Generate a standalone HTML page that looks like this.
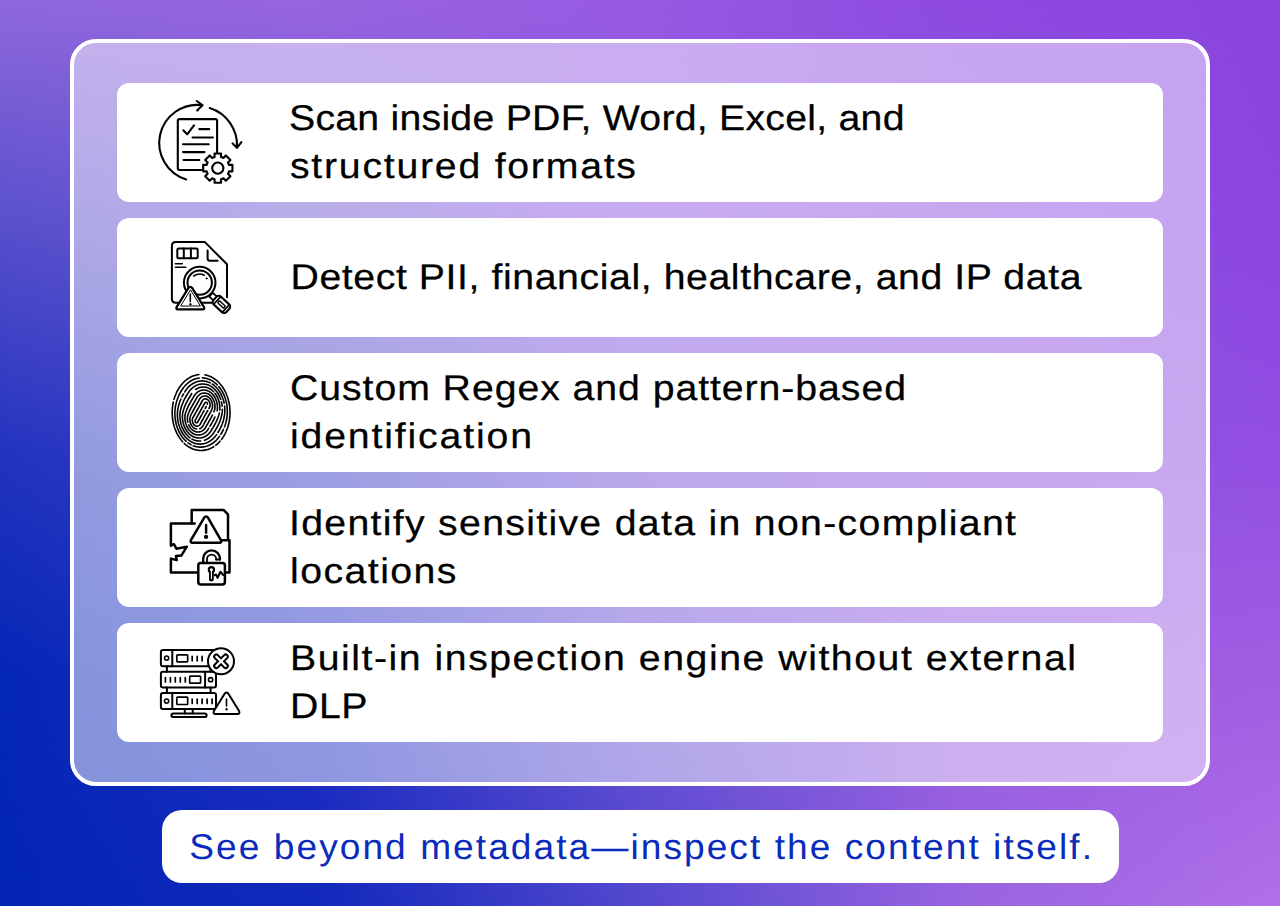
<!DOCTYPE html>
<html><head><meta charset="utf-8">
<style>
html,body{margin:0;padding:0;width:1280px;height:906px;overflow:hidden}
body{position:relative;font-family:"Liberation Sans",sans-serif;
background:#6a50d0;
}
.bgl{position:absolute;left:0;top:0;width:1280px;height:906px}
#panel{position:absolute;left:70px;top:39px;width:1132px;height:739px;border:4px solid #fff;border-radius:26px;background:rgba(255,255,255,0.5)}
.card{position:absolute;left:117px;width:1046px;height:119px;background:#fff;border-radius:12px}
#pill{position:absolute;left:162px;top:810px;width:957px;height:73px;background:#fff;border-radius:20px}
svg{position:absolute;left:0;top:0}
</style></head><body>
<div class="bgl" style="background:linear-gradient(90deg,rgb(143, 104, 220) 0%,rgb(152, 101, 224) 25%,rgb(151, 90, 226) 50%,rgb(142, 74, 224) 75%,rgb(138, 69, 223) 100%)"></div>
<div class="bgl" style="background:linear-gradient(90deg,rgb(88, 80, 204) 0%,rgb(111, 89, 209) 25%,rgb(145, 89, 225) 50%,rgb(141, 81, 225) 75%,rgb(139, 70, 224) 100%);-webkit-mask-image:linear-gradient(180deg,transparent 0px,#000 225px);mask-image:linear-gradient(180deg,transparent 0px,#000 225px)"></div>
<div class="bgl" style="background:linear-gradient(90deg,rgb(35, 52, 191) 0%,rgb(59, 65, 197) 25%,rgb(121, 81, 217) 50%,rgb(141, 81, 225) 75%,rgb(146, 79, 226) 100%);-webkit-mask-image:linear-gradient(180deg,transparent 225px,#000 450px);mask-image:linear-gradient(180deg,transparent 225px,#000 450px)"></div>
<div class="bgl" style="background:linear-gradient(90deg,rgb(4, 39, 181) 0%,rgb(37, 49, 197) 25%,rgb(105, 81, 213) 50%,rgb(153, 93, 225) 75%,rgb(160, 94, 226) 100%);-webkit-mask-image:linear-gradient(180deg,transparent 450px,#000 675px);mask-image:linear-gradient(180deg,transparent 450px,#000 675px)"></div>
<div class="bgl" style="background:linear-gradient(90deg,rgb(3, 37, 179) 0%,rgb(17, 41, 187) 25%,rgb(83, 72, 206) 50%,rgb(152, 100, 224) 75%,rgb(177, 112, 232) 100%);-webkit-mask-image:linear-gradient(180deg,transparent 675px,#000 906px);mask-image:linear-gradient(180deg,transparent 675px,#000 906px)"></div>
<div id="panel"></div>
<div class="card" style="top:83px"></div>
<div class="card" style="top:218px"></div>
<div class="card" style="top:353px"></div>
<div class="card" style="top:488px"></div>
<div class="card" style="top:623px"></div>
<div id="pill"></div>
<svg width="1280" height="906" viewBox="0 0 1280 906">
<g text-rendering="geometricPrecision" font-family="Liberation Sans" font-size="35.7" fill="#000" stroke="#000" stroke-width="0.25">
<text transform="translate(289.00 130.2) scale(1.1 1)" x="0" y="0" textLength="559.55" lengthAdjust="spacing">Scan inside PDF, Word, Excel, and</text>
<text transform="translate(290.00 178.2) scale(1.1 1)" x="0" y="0" textLength="314.55" lengthAdjust="spacing">structured formats</text>
<text transform="translate(290.50 289.2) scale(1.1 1)" x="0" y="0" textLength="719.09" lengthAdjust="spacing">Detect PII, financial, healthcare, and IP data</text>
<text transform="translate(290.00 400.2) scale(1.1 1)" x="0" y="0" textLength="560.00" lengthAdjust="spacing">Custom Regex and pattern-based</text>
<text transform="translate(290.00 448.2) scale(1.1 1)" x="0" y="0" textLength="220.00" lengthAdjust="spacing">identification</text>
<text transform="translate(289.00 535.2) scale(1.1 1)" x="0" y="0" textLength="660.91" lengthAdjust="spacing">Identify sensitive data in non-compliant</text>
<text transform="translate(290.00 583.2) scale(1.1 1)" x="0" y="0" textLength="151.36" lengthAdjust="spacing">locations</text>
<text transform="translate(290.00 670.2) scale(1.1 1)" x="0" y="0" textLength="714.55" lengthAdjust="spacing">Built-in inspection engine without external</text>
<text transform="translate(290.00 718.2) scale(1.1 1)" x="0" y="0" textLength="70.45" lengthAdjust="spacing">DLP</text>
</g>
<g text-rendering="geometricPrecision" font-family="Liberation Sans" font-size="35.7" fill="#0b2bbd">
<text transform="translate(189.25 858.6) scale(1.04 1)" x="0" y="0" textLength="868.03" lengthAdjust="spacing">See beyond metadata—inspect the content itself.</text>
</g>
<g id="icons" fill="none" stroke="#000" stroke-width="2.1" stroke-linecap="round" stroke-linejoin="round">
<g stroke-width="2.1">
<path d="M202.4 105.2 A38.1 38.1 0 0 0 186.2 179.4"/>
<path d="M196.8 101.0 L202.4 105.2 L197.2 110.6"/>
<path d="M209.7 108.1 A39 39 0 0 1 237 147.6"/>
<path d="M232.6 143.4 L237 147.8 L241.4 142.2"/>
<path d="M201.4 170 L179.5 170 Q177.8 170 177.8 168.3 L177.8 120.8 Q177.8 119.1 179.5 119.1 L215.4 119.1 Q217.1 119.1 217.1 120.8 L217.1 152.5"/>
<path d="M183.3 130.3 L187.2 134.3 L194.0 125.4"/>
<path d="M199.3 129.1 L209.2 129.1"/>
<path d="M192.5 137.5 L212.9 137.5"/>
<path d="M183 144.3 L208.7 144.3"/>
<path d="M183 152.1 L204.5 152.1"/>
<path d="M183.5 160 L199.3 160"/>
<path d="M213.17 157.46 L214.60 156.95 L214.55 153.46 L221.05 153.46 L221.00 156.95 L222.05 157.31 L223.42 157.95 L225.86 155.45 L230.45 160.04 L227.95 162.48 L228.44 163.47 L228.95 164.90 L232.44 164.85 L232.44 171.35 L228.95 171.30 L228.59 172.35 L227.95 173.72 L230.45 176.16 L225.86 180.75 L223.42 178.25 L222.43 178.74 L221.00 179.25 L221.05 182.74 L214.55 182.74 L214.60 179.25 L213.55 178.89 L212.18 178.25 L209.74 180.75 L205.15 176.16 L207.65 173.72 L207.16 172.73 L206.65 171.30 L203.16 171.35 L203.16 164.85 L206.65 164.90 L207.01 163.85 L207.65 162.48 L205.15 160.04 L209.74 155.45 L212.18 157.95 Z" fill="#fff"/>
<circle cx="217.8" cy="168.1" r="5.6"/>
</g>
<g stroke-width="2.0">
<path d="M227 297.3 L227 264.3 L204.7 241.9 L175.9 241.9 Q171.9 241.9 171.9 245.9 L171.9 298.8 Q171.9 302.8 175.9 302.8 L180 302.8 M200 302.8 L212 302.8"/>
<path d="M207.6 250.4 L207.6 258.3 Q207.6 260.8 210.1 260.8 L217.6 260.8"/>
<rect x="177.3" y="248.4" width="20.4" height="9.9" rx="1.5"/>
<path d="M183.8 248.4 L183.8 258.3 M190.9 248.4 L190.9 258.3"/>
<path d="M175.4 263.8 L182.3 263.8 M175.4 267.3 L185.8 267.3" stroke-width="1.6"/>
<g transform="translate(221.3 304.3) rotate(43)">
<rect x="-14" y="-2.6" width="6" height="5.2" fill="#fff" stroke-width="1.7"/>
<rect x="-8.6" y="-5.3" width="17.6" height="10.6" rx="3.2" fill="#fff" stroke-width="2.1"/>
<rect x="-3.8" y="-1.4" width="8.2" height="2.8" rx="1.2" stroke-width="1.5"/>
<path d="M-5.6 -5.3 L-5.6 5.3 M6.2 -5.3 L6.2 5.3" stroke-width="1.6"/>
</g>
<circle cx="199.7" cy="282.6" r="15.8" fill="#fff"/>
<circle cx="199.7" cy="282.6" r="12.2"/>
<path d="M193.7 276.0 Q199 272.5 204.2 275.3" stroke-width="1.6"/>
<circle cx="206.6" cy="278.4" r="0.6" fill="#000" stroke-width="1"/>
<path d="M190.3 286.8 Q189.2 286.8 188.5 287.9 L176.6 307.2 Q175.6 309.3 178 309.3 L202.6 309.3 Q205 309.3 204 307.2 L192.1 287.9 Q191.4 286.8 190.3 286.8 Z" fill="#fff" stroke-width="2.2"/>
<path d="M190.3 290.2 L180.6 306.0 L200.0 306.0 Z" stroke-width="1.0"/>
<path d="M190.3 294.0 L190.3 301.5" stroke-width="1.6"/>
<circle cx="190.3" cy="304.2" r="0.7" fill="#000" stroke-width="1"/>
</g>
<path stroke-width="1.6" d="M204.4 450.2 L205.0 450.1 L205.7 450.0 L206.2 449.9 L206.8 449.8 L207.5 449.6 L208.0 449.4 L208.5 449.2 L209.1 449.0 L209.8 448.8 L210.2 448.5 L210.8 448.3 L211.2 448.1 L211.8 447.8 L212.2 447.6 L212.8 447.3 L213.2 447.0 L213.6 446.8 L213.8 446.7 M215.8 445.3 L216.1 445.0 L216.5 444.7 L217.0 444.2 L217.3 444.0 L217.8 443.6 L218.1 443.2 L218.5 442.8 L218.8 442.5 L219.2 442.1 L219.5 441.8 L220.0 441.2 L220.0 441.2 M221.5 439.4 L221.8 439.0 L222.2 438.5 L222.5 438.0 L222.8 437.7 L223.0 437.2 L223.3 436.8 L223.7 436.2 L224.0 435.8 L224.2 435.2 L224.5 434.8 L224.8 434.3 L225.0 433.9 L225.2 433.4 L225.5 432.9 L225.8 432.3 L226.0 431.8 L226.2 431.2 L226.4 430.8 L226.7 430.2 L226.8 429.8 L227.0 429.2 L227.2 428.7 L227.5 428.0 L227.7 427.5 L227.8 427.0 L228.0 426.4 L228.2 425.8 L228.3 425.2 L228.5 424.6 L228.6 424.0 L228.8 423.5 L228.9 422.8 L229.0 422.2 L229.2 421.5 L229.3 421.0 L229.4 420.2 L229.5 419.5 L229.6 419.0 L229.7 418.2 L229.7 417.5 L229.8 417.0 L229.9 416.2 L229.9 415.5 L229.9 414.8 L230.0 414.0 L230.0 413.2 L230.0 412.5 L230.0 411.8 L230.0 411.0 L229.9 410.2 L229.9 409.5 L229.9 408.8 L229.8 408.0 L229.7 407.5 L229.7 406.8 L229.6 406.0 L229.5 405.5 L229.4 404.8 L229.3 404.0 L229.2 403.5 L229.0 402.8 L228.9 402.2 L228.8 401.5 L228.6 401.0 L228.5 400.4 L228.3 399.8 L228.2 399.2 L228.0 398.6 L227.8 398.0 L227.7 397.5 L227.5 397.0 L227.2 396.3 L227.0 395.8 L226.8 395.2 L226.7 394.8 L226.4 394.2 L226.2 393.8 L226.0 393.2 L225.8 392.7 L225.5 392.1 L225.2 391.6 L225.0 391.1 L224.8 390.7 L224.5 390.2 L224.2 389.8 L224.0 389.2 L223.7 388.8 L223.3 388.2 L223.0 387.8 L222.8 387.3 L222.5 387.0 L222.2 386.5 L221.8 386.0 L221.5 385.6 L221.2 385.2 L220.8 384.8 L220.5 384.3 L220.2 384.0 L219.8 383.5 L219.5 383.2 L219.1 382.8 L218.8 382.4 L218.3 382.0 L218.0 381.7 L217.5 381.2 L217.2 381.0 L216.8 380.6 L216.4 380.2 L216.0 379.9 L215.5 379.6 L215.1 379.2 L214.7 379.0 L214.2 378.7 L213.8 378.3 L213.2 378.0 L212.8 377.8 L212.3 377.5 L211.9 377.2 L211.4 377.0 L210.9 376.8 L210.3 376.5 L209.8 376.2 L209.2 376.0 L208.8 375.9 L208.2 375.7 L207.7 375.5 L207.0 375.3 L206.5 375.2 L205.8 375.0 L205.2 374.9 L205.0 374.9 M198.8 374.6 L198.0 374.7 L197.5 374.8 L196.8 374.9 L196.2 375.0 L195.5 375.2 L195.0 375.4 L194.5 375.5 L193.8 375.8 L193.2 375.9 L192.8 376.1 L192.2 376.3 L191.8 376.5 L191.2 376.8 L190.8 377.0 L190.2 377.3 L189.8 377.6 L189.2 377.8 L188.8 378.1 L188.2 378.5 L187.8 378.8 L187.5 379.0 L187.0 379.3 L186.5 379.7 L186.1 380.0 L185.8 380.3 L185.2 380.7 L184.9 381.0 L184.5 381.4 L184.1 381.8 L183.8 382.1 L183.4 382.5 L183.0 382.9 L182.7 383.2 L182.2 383.7 L182.0 384.0 L181.6 384.5 L181.2 384.9 L181.0 385.2 L180.6 385.8 L180.2 386.2 L180.0 386.5 L179.7 387.0 L179.3 387.5 L179.0 388.0 L178.8 388.4 L178.5 388.8 L178.2 389.2 L178.0 389.8 L177.7 390.2 L177.4 390.8 L177.1 391.2 L176.9 391.8 L176.6 392.2 L176.4 392.8 L176.2 393.2 L176.0 393.8 L175.8 394.3 L175.5 394.9 L175.3 395.5 L175.1 396.0 L174.9 396.5 L174.7 397.0 L174.5 397.6 L174.3 398.2 L174.2 398.8 L174.0 399.3 L174.0 399.3 M173.3 402.0 L173.2 402.5 L173.1 403.2 L173.0 403.8 L172.8 404.5 L172.8 405.1 L172.7 405.8 L172.6 406.5 L172.5 407.0 L172.4 407.8 L172.4 408.5 L172.3 409.2 L172.3 410.0 L172.2 410.5 L172.2 411.2 L172.2 412.0 L172.2 412.8 L172.2 413.5 L172.2 414.2 L172.3 414.8 L172.3 415.5 L172.3 416.2 L172.4 417.0 L172.5 417.8 L172.5 418.2 L172.6 419.0 L172.7 419.8 L172.8 420.2 L172.9 421.0 L173.0 421.5 L173.2 422.2 L173.3 422.8 L173.4 423.5 L173.6 424.0 L173.7 424.8 L173.9 425.2 L174.0 425.8 L174.2 426.5 L174.4 427.0 L174.5 427.5 L174.8 428.1 L175.0 428.8 L175.2 429.2 L175.4 429.8 L175.5 430.2 L175.8 430.8 L176.0 431.3 L176.2 431.9 L176.5 432.4 L176.8 433.0 L177.0 433.5 L177.2 434.0 L177.5 434.4 L177.8 434.9 L178.0 435.3 L178.2 435.8 L178.5 436.2 L178.9 436.8 L179.2 437.2 L179.5 437.7 L179.8 438.1 L180.0 438.5 L180.4 439.0 L180.8 439.5 L181.0 439.8 L181.4 440.2 L181.8 440.7 L182.0 441.0 L182.4 441.5 L182.7 441.8 M184.2 443.4 L184.7 443.8 L185.0 444.1 L185.5 444.5 L185.8 444.8 L186.2 445.1 L186.8 445.5 L187.1 445.8 L187.5 446.0 L188.0 446.4 L188.5 446.7 L189.0 447.0 L189.4 447.2 L189.9 447.5 L190.3 447.8 L190.8 448.0 L191.3 448.2 L191.9 448.5 L192.4 448.8 L193.0 449.0 L193.5 449.2 L194.0 449.3 L194.5 449.5 L195.2 449.7 L195.8 449.8 L196.5 450.0 L197.0 450.1 L197.8 450.2 L198.2 450.3 L199.0 450.4 L199.8 450.5 L200.5 450.5 L201.2 450.5 L202.0 450.5 L202.8 450.4 L203.5 450.4 L204.2 450.3 L204.4 450.2 M203.1 447.0 L203.8 446.9 L204.5 446.8 L205.0 446.7 L205.7 446.5 L206.2 446.3 L206.8 446.2 L207.3 446.0 L208.0 445.8 L208.5 445.6 L209.0 445.3 L209.5 445.1 L210.0 444.9 L210.5 444.6 L211.0 444.3 L211.5 444.0 L211.9 443.8 L212.3 443.5 L212.8 443.2 L213.2 442.8 L213.7 442.5 L214.0 442.2 L214.5 441.9 L214.9 441.5 L215.2 441.2 L215.7 440.8 L216.0 440.5 L216.5 440.0 L216.8 439.7 L217.2 439.2 L217.5 438.9 L217.8 438.5 L218.2 438.0 L218.5 437.7 L218.8 437.2 L219.2 436.8 L219.5 436.3 L219.5 436.3 M220.8 434.4 L221.0 434.0 L221.3 433.5 L221.6 433.0 L221.9 432.5 L222.2 432.0 L222.4 431.5 L222.7 431.0 L222.9 430.5 L223.2 430.0 L223.4 429.5 L223.5 429.2 M224.5 426.9 L224.7 426.2 L224.9 425.8 L225.1 425.2 L225.2 424.7 L225.5 424.0 L225.6 423.5 L225.8 423.0 L226.0 422.2 L226.1 421.8 L226.2 421.1 L226.4 420.5 L226.5 419.9 L226.6 419.2 L226.8 418.6 L226.9 418.0 L227.0 417.2 L227.0 416.8 L227.1 416.0 L227.2 415.2 L227.2 414.5 L227.3 414.0 L227.3 413.2 L227.3 412.5 L227.3 411.8 L227.3 411.0 L227.3 410.2 L227.3 409.5 L227.2 408.9 L227.2 408.2 L227.1 407.5 L227.1 406.8 L227.0 406.2 L226.9 405.5 L226.8 404.8 L226.7 404.2 L226.6 403.5 L226.5 403.0 L226.3 402.2 L226.2 401.8 L226.0 401.0 L225.9 400.5 L225.7 400.0 L225.5 399.2 L225.4 398.8 L225.2 398.2 L225.0 397.6 L224.8 397.0 L224.6 396.5 L224.4 396.0 L224.2 395.5 L224.0 395.0 L223.7 394.5 L223.5 394.0 L223.2 393.4 L223.0 392.9 L222.8 392.5 L222.5 392.0 L222.2 391.5 L221.9 391.0 L221.6 390.5 L221.3 390.0 L221.0 389.5 L220.8 389.1 L220.5 388.8 L220.1 388.2 L219.8 387.8 L219.5 387.4 L219.2 387.0 L218.8 386.5 L218.8 386.5 M217.2 384.9 L216.9 384.5 L216.5 384.2 L216.1 383.8 L215.8 383.5 L215.2 383.1 L214.9 382.8 L214.5 382.5 L214.0 382.1 L213.5 381.8 L213.2 381.5 L212.8 381.2 L212.2 380.9 L211.8 380.6 L211.2 380.4 L210.8 380.1 L210.2 379.9 L209.8 379.6 L209.2 379.4 L208.8 379.2 L208.1 379.0 L207.5 378.8 L207.0 378.6 L206.5 378.5 L205.8 378.3 L205.2 378.2 L204.5 378.1 L203.8 378.0 L203.2 377.9 L202.5 377.9 L202.5 377.9 M199.2 378.0 L198.8 378.1 L198.0 378.2 L197.5 378.3 L196.8 378.5 L196.2 378.6 L195.7 378.8 L195.0 379.0 L194.5 379.1 L194.0 379.3 L193.5 379.6 L193.0 379.8 L192.5 380.0 L192.0 380.3 L191.5 380.5 L191.0 380.8 L190.5 381.1 L190.0 381.5 L189.6 381.8 L189.2 382.0 L188.8 382.3 L188.2 382.7 L187.9 383.0 L187.5 383.3 L187.0 383.8 L186.8 384.0 L186.2 384.5 L186.0 384.8 L185.5 385.2 L185.2 385.5 L184.8 386.0 L184.5 386.4 L184.2 386.8 L183.8 387.2 L183.5 387.6 L183.2 388.0 L182.9 388.5 L182.5 389.0 L182.2 389.4 L182.0 389.8 L181.7 390.2 L181.4 390.8 L181.1 391.2 L180.8 391.8 L180.5 392.2 L180.2 392.7 L180.0 393.1 L179.8 393.6 L179.5 394.1 L179.2 394.6 L179.0 395.1 L178.8 395.7 L178.5 396.2 L178.3 396.8 L178.1 397.2 L177.9 397.8 L177.7 398.2 L177.5 398.8 L177.2 399.5 L177.1 400.0 L176.9 400.5 L176.8 401.0 L176.5 401.8 L176.4 402.2 L176.2 402.8 L176.1 403.5 L176.0 404.0 L175.8 404.8 L175.7 405.2 L175.5 406.0 L175.5 406.5 L175.3 407.2 L175.2 407.8 L175.2 408.5 L175.1 409.2 L175.0 410.0 L175.0 410.5 L174.9 411.2 L174.9 412.0 L174.9 412.8 L174.9 413.5 L174.9 414.2 L174.9 415.0 L174.9 415.8 L175.0 416.5 L175.0 417.0 L175.1 417.8 L175.2 418.5 L175.3 419.0 L175.4 419.8 L175.5 420.5 L175.6 421.0 L175.7 421.8 L175.8 422.2 L176.0 423.0 L176.1 423.5 L176.2 424.2 L176.4 424.8 L176.5 425.2 L176.8 425.9 L176.9 426.5 L177.1 427.0 L177.3 427.5 L177.5 428.1 L177.7 428.8 L177.9 429.2 L178.1 429.8 L178.4 430.2 L178.6 430.8 L178.8 431.2 L179.1 431.8 L179.3 432.2 L179.6 432.8 L179.9 433.2 L180.1 433.8 L180.4 434.2 L180.7 434.8 L181.0 435.2 L181.2 435.5 L181.6 436.0 L181.9 436.5 L182.2 437.0 L182.5 437.3 L182.9 437.8 L183.2 438.2 L183.5 438.5 L183.9 439.0 L184.2 439.4 L184.6 439.8 L185.0 440.2 L185.4 440.5 L185.8 440.9 L186.2 441.2 L186.2 441.2 M188.0 442.8 L188.3 443.0 L188.8 443.3 L189.2 443.6 L189.8 443.9 L190.2 444.2 L190.7 444.5 L191.0 444.7 M193.2 445.7 L193.8 445.9 L194.2 446.1 L194.8 446.2 L195.5 446.4 L196.0 446.6 L196.8 446.7 L197.2 446.8 L198.0 447.0 L198.5 447.0 L199.2 447.1 L200.0 447.1 L200.8 447.1 L201.5 447.1 L202.2 447.1 L203.0 447.0 L203.1 447.0 M201.8 444.0 L202.5 443.9 L203.2 443.8 L203.8 443.7 L204.5 443.5 L205.0 443.4 L205.5 443.2 L206.2 443.0 L206.8 442.8 L207.2 442.6 L207.8 442.3 L208.2 442.1 L208.8 441.8 L209.2 441.6 L209.8 441.3 L210.1 441.0 L210.5 440.8 L211.0 440.4 L211.5 440.0 L211.9 439.8 L212.2 439.4 L212.7 439.0 L213.0 438.8 L213.5 438.3 L213.8 438.0 L214.2 437.5 L214.5 437.2 L214.9 436.8 L215.2 436.4 L215.5 436.0 L215.9 435.5 L216.2 435.0 L216.5 434.7 L216.6 434.5 M217.9 432.5 L218.2 432.0 L218.5 431.5 L218.8 431.1 L219.0 430.7 L219.3 430.2 L219.5 429.8 L219.8 429.2 L220.1 428.8 L220.3 428.2 L220.6 427.8 L220.8 427.2 L221.0 426.8 L221.3 426.2 L221.5 425.7 L221.8 425.1 L222.0 424.5 L222.2 424.0 L222.4 423.5 L222.5 423.0 L222.8 422.4 L223.0 421.8 L223.1 421.2 L223.3 420.8 L223.5 420.0 L223.6 419.5 L223.8 419.0 L223.9 418.2 L224.1 417.8 L224.2 417.0 L224.3 416.5 L224.4 415.8 L224.5 415.2 L224.6 414.5 L224.7 413.8 L224.8 413.2 L224.8 412.5 L224.8 411.8 L224.8 411.0 L224.8 410.2 L224.8 409.5 L224.8 408.8 L224.8 408.0 L224.7 407.5 L224.7 406.8 L224.6 406.0 L224.6 406.0 M224.1 403.2 L224.0 402.6 L223.9 402.0 L223.8 401.5 L223.6 400.8 L223.4 400.2 L223.2 399.7 L223.0 399.0 L222.9 398.5 L222.7 398.0 L222.5 397.5 L222.2 396.9 L222.0 396.2 L221.8 395.8 L221.6 395.2 L221.3 394.8 L221.1 394.2 L220.8 393.8 L220.5 393.2 L220.3 392.8 L220.0 392.3 L219.8 391.9 L219.5 391.5 L219.2 391.0 L218.8 390.5 L218.5 390.1 L218.2 389.7 L217.9 389.2 L217.5 388.8 L217.2 388.5 L216.8 388.0 L216.5 387.7 L216.1 387.2 L215.8 386.9 L215.3 386.5 L215.0 386.2 L214.5 385.8 L214.2 385.5 L213.8 385.1 L213.2 384.8 L212.9 384.5 L212.5 384.2 L212.2 384.1 M210.2 382.9 L209.8 382.7 L209.2 382.4 L208.8 382.2 L208.1 382.0 L207.5 381.8 L207.0 381.6 L206.5 381.5 L205.8 381.3 L205.2 381.2 L204.5 381.1 L203.8 381.0 L203.2 381.0 L202.5 380.9 L201.8 380.9 L201.0 381.0 L200.5 381.0 L199.8 381.1 L199.0 381.2 L198.5 381.3 L197.8 381.5 L197.2 381.6 L196.8 381.8 L196.1 382.0 L195.5 382.2 L195.0 382.5 L194.5 382.7 L194.0 382.9 L193.5 383.2 L193.0 383.5 L192.5 383.8 L192.2 384.0 L191.8 384.3 L191.2 384.6 L190.8 385.0 L190.4 385.2 L190.0 385.6 L189.6 386.0 L189.2 386.3 L188.8 386.8 L188.5 387.0 L188.0 387.5 L187.8 387.8 L187.4 388.2 L187.0 388.7 L186.8 389.0 L186.4 389.5 L186.0 390.0 L185.8 390.4 L185.5 390.8 L185.2 391.2 L184.9 391.8 L184.8 392.0 M183.5 394.0 L183.2 394.4 L183.0 394.8 L182.8 395.3 L182.5 395.8 L182.2 396.2 L182.0 396.8 L182.0 396.8 M180.9 399.0 L180.7 399.5 L180.5 400.0 L180.2 400.6 L180.0 401.2 L179.8 401.8 L179.6 402.2 L179.5 402.8 L179.2 403.4 L179.1 404.0 L178.9 404.5 L178.8 405.1 L178.6 405.8 L178.4 406.2 L178.3 407.0 L178.2 407.5 L178.0 408.2 L177.9 408.8 L177.8 409.5 L177.7 410.0 L177.6 410.8 L177.5 411.5 L177.5 412.0 L177.4 412.8 L177.4 413.5 L177.4 414.2 L177.4 415.0 L177.4 415.8 L177.5 416.5 L177.5 417.1 L177.5 417.8 L177.6 418.5 L177.7 419.2 L177.8 419.8 L177.9 420.5 L178.0 421.2 L178.1 421.8 L178.2 422.4 L178.4 423.0 L178.5 423.5 L178.7 424.2 L178.8 424.8 L179.0 425.3 L179.2 426.0 L179.4 426.5 L179.6 427.0 L179.8 427.5 L180.0 428.2 L180.2 428.8 L180.5 429.2 L180.7 429.8 L180.9 430.2 L181.2 430.8 L181.4 431.2 L181.7 431.8 L182.0 432.2 L182.2 432.7 L182.5 433.1 L182.8 433.5 L183.1 434.0 L183.4 434.5 L183.8 434.9 L184.0 435.3 L184.4 435.8 L184.8 436.2 L185.0 436.5 L185.4 437.0 L185.8 437.4 L186.1 437.8 L186.5 438.1 L186.9 438.5 L187.2 438.8 L187.7 439.2 L188.0 439.5 L188.5 439.9 L189.0 440.2 L189.3 440.5 L189.8 440.8 L190.2 441.1 L190.8 441.4 L191.2 441.7 L191.8 442.0 L192.2 442.2 L192.8 442.5 L193.2 442.7 L193.8 442.9 L194.2 443.1 L194.8 443.2 L195.5 443.5 L196.0 443.6 L196.8 443.7 L197.2 443.8 L198.0 443.9 L198.5 444.0 L199.2 444.1 L200.0 444.1 L200.8 444.1 L201.5 444.0 L201.8 444.0 M204.5 440.2 L205.1 440.0 L205.7 439.8 L206.2 439.5 L206.7 439.2 L207.2 439.0 L207.6 438.8 L208.0 438.5 L208.5 438.2 L209.0 437.8 L209.4 437.5 L209.8 437.2 L210.2 436.8 L210.6 436.5 L211.0 436.1 L211.3 435.8 L211.8 435.3 L212.0 435.0 L212.5 434.5 L212.8 434.1 L213.0 433.8 L213.4 433.2 L213.7 432.8 L214.0 432.3 L214.2 431.9 L214.5 431.5 L214.8 431.0 L215.1 430.5 L215.5 430.0 L215.8 429.5 L216.0 429.1 L216.2 428.7 L216.5 428.2 L216.8 427.8 L217.1 427.2 L217.3 426.8 L217.6 426.2 L217.9 425.8 L218.1 425.2 L218.4 424.8 L218.6 424.2 L218.8 423.8 L219.0 423.2 L219.3 422.8 L219.5 422.2 L219.8 421.6 L220.0 421.0 L220.2 420.5 L220.3 420.0 L220.5 419.5 L220.8 418.8 L220.9 418.2 L221.1 417.8 L221.2 417.1 L221.4 416.5 L221.5 416.0 L221.7 415.2 L221.8 414.8 L222.0 414.0 L222.1 413.5 L222.2 412.8 L222.2 412.2 L222.3 411.5 L222.3 410.8 L222.4 410.0 L222.4 409.2 L222.4 409.2 M222.2 406.2 L222.1 405.5 L222.0 404.8 L221.9 404.2 L221.8 403.5 L221.7 403.0 L221.5 402.2 L221.4 401.8 L221.4 401.8 M220.7 399.2 L220.5 398.7 L220.2 398.0 L220.0 397.5 L219.8 397.0 L219.6 396.5 L219.4 396.0 L219.1 395.5 L218.8 395.0 L218.6 394.5 L218.3 394.0 L218.0 393.5 L217.8 393.1 L217.5 392.8 L217.1 392.2 L216.8 391.8 L216.5 391.4 L216.2 391.0 L215.8 390.5 L215.5 390.2 L215.1 389.8 L214.8 389.4 L214.4 389.0 L214.0 388.7 L213.5 388.2 L213.2 388.0 L212.8 387.6 L212.3 387.2 L211.9 387.0 L211.5 386.7 L211.0 386.4 L210.5 386.1 L210.0 385.8 L209.5 385.6 L209.0 385.3 L208.5 385.1 L208.0 384.9 L207.5 384.8 L206.8 384.5 L206.2 384.4 L205.5 384.2 L205.0 384.2 L204.2 384.1 L203.5 384.0 L203.0 384.0 L202.2 384.0 L201.8 384.0 L201.0 384.1 L200.2 384.2 L199.8 384.3 L199.0 384.4 L198.5 384.6 L198.0 384.8 L197.3 385.0 L196.8 385.2 L196.2 385.4 L195.8 385.7 L195.2 385.9 L194.8 386.2 L194.3 386.5 L193.9 386.8 L193.5 387.1 L193.0 387.4 L192.6 387.8 L192.2 388.1 L191.8 388.5 L191.5 388.8 L191.0 389.2 L190.8 389.5 L190.3 390.0 L190.0 390.4 L189.7 390.8 L189.3 391.2 L189.0 391.7 L188.8 392.0 L188.5 392.5 L188.1 393.0 L187.9 393.5 L187.5 394.0 L187.2 394.5 L187.0 394.8 L186.7 395.2 L186.4 395.8 L186.1 396.2 L185.8 396.8 L185.6 397.2 L185.3 397.8 L185.0 398.2 L184.8 398.7 L184.5 399.2 L184.2 399.7 L184.0 400.2 L183.8 400.7 L183.5 401.2 L183.3 401.8 L183.1 402.2 L182.9 402.8 L182.7 403.2 L182.5 403.8 L182.2 404.3 L182.0 405.0 L181.8 405.5 L181.6 406.0 L181.5 406.5 L181.2 407.2 L181.1 407.8 L181.0 408.2 L180.8 409.0 L180.6 409.5 L180.5 410.1 L180.4 410.8 L180.2 411.3 L180.1 412.0 L180.0 412.8 L180.0 413.3 L180.0 414.0 L179.9 414.8 L179.9 415.5 L179.9 416.2 L180.0 417.0 L180.0 417.8 L180.0 418.2 L180.1 419.0 L180.2 419.8 L180.3 420.2 L180.4 421.0 L180.5 421.6 L180.6 422.2 L180.8 422.8 L180.9 423.5 L181.0 424.0 L181.2 424.7 L181.4 425.2 L181.6 425.8 L181.8 426.2 L182.0 426.9 L182.2 427.5 L182.5 428.0 L182.7 428.5 L182.9 429.0 L183.2 429.5 L183.4 430.0 L183.7 430.5 L184.0 431.0 L184.2 431.4 L184.5 431.8 L184.8 432.2 L185.1 432.8 L185.5 433.2 L185.8 433.6 L186.1 434.0 L186.5 434.5 L186.8 434.8 L187.2 435.2 L187.5 435.6 L187.9 436.0 L188.2 436.3 L188.7 436.8 L189.0 437.0 L189.5 437.4 L190.0 437.8 L190.0 437.8 M191.9 439.0 L192.4 439.2 L192.9 439.5 L193.5 439.8 L194.0 440.0 L194.5 440.2 L195.0 440.3 L195.6 440.5 L196.2 440.7 L196.8 440.8 L197.5 440.9 L198.2 441.0 L198.8 441.0 L199.5 441.0 L200.2 441.0 L200.7 441.0 M199.7 438.0 L200.2 438.0 L201.0 437.9 L201.6 437.8 L202.2 437.6 L202.8 437.5 L203.4 437.2 L204.0 437.0 L204.5 436.8 L205.0 436.5 L205.5 436.3 L206.0 436.0 L206.3 435.8 L206.8 435.5 L207.2 435.1 L207.7 434.8 L208.0 434.5 L208.5 434.0 L208.8 433.7 L209.2 433.2 L209.5 432.9 L209.8 432.5 L210.2 432.0 L210.5 431.6 L210.8 431.2 L211.1 430.8 L211.4 430.2 L211.6 429.8 L211.9 429.2 L212.2 428.8 L212.5 428.4 L212.8 428.0 L213.1 427.5 L213.4 427.0 L213.7 426.5 L214.0 426.0 L214.2 425.5 L214.5 425.0 L214.8 424.6 L215.0 424.1 L215.2 423.6 L215.5 423.2 L215.8 422.7 L216.0 422.2 L216.2 421.6 L216.5 421.1 L216.8 420.6 L217.0 420.0 L217.2 419.5 L217.4 419.0 L217.6 418.5 L217.8 418.0 L218.0 417.5 L218.2 416.9 L218.5 416.2 L218.6 415.8 L218.8 415.2 L219.0 414.5 L219.1 414.0 L219.3 413.5 L219.4 413.0 M219.8 410.2 L219.9 409.5 L219.9 408.8 L219.9 408.0 L219.9 407.2 L219.8 406.5 L219.8 405.8 L219.7 405.2 L219.6 404.5 L219.5 403.9 L219.4 403.2 L219.2 402.6 L219.1 402.0 L219.0 401.5 L218.8 400.8 L218.6 400.2 L218.4 399.8 L218.2 399.2 L218.0 398.6 L217.8 398.0 L217.5 397.5 L217.3 397.0 L217.0 396.5 L216.8 396.0 L216.5 395.6 L216.2 395.1 L216.0 394.8 L215.7 394.2 L215.3 393.8 L215.0 393.3 L215.0 393.3 M213.5 391.6 L213.1 391.2 L212.8 390.9 L212.3 390.5 L212.0 390.2 L211.5 389.9 L211.0 389.5 L210.6 389.2 L210.2 389.0 L209.8 388.7 L209.2 388.5 L208.8 388.2 L208.2 388.0 L207.5 387.8 L207.0 387.6 L206.5 387.4 L205.8 387.3 L205.2 387.2 L204.5 387.1 L203.8 387.0 L203.0 387.0 L202.2 387.1 L201.5 387.1 L200.8 387.2 L200.2 387.4 L199.8 387.5 L199.0 387.8 L198.5 387.9 L198.0 388.2 L197.5 388.4 L197.0 388.7 L196.5 389.0 L196.1 389.2 L195.7 389.5 L195.7 389.5 M191.8 393.6 L191.5 394.0 L191.2 394.5 L190.9 395.0 L190.6 395.5 L190.3 396.0 L190.0 396.4 L189.8 396.8 L189.5 397.2 L189.2 397.8 L188.9 398.2 L188.6 398.8 L188.3 399.2 L188.0 399.8 L187.8 400.2 L187.5 400.7 L187.2 401.2 L187.0 401.6 L186.8 402.1 L186.5 402.6 L186.2 403.1 L186.0 403.6 L185.8 404.2 L185.5 404.7 L185.3 405.2 L185.0 405.8 L184.8 406.2 L184.6 406.8 L184.4 407.2 L184.2 407.8 L184.0 408.4 L183.8 409.0 L183.6 409.5 L183.5 410.0 L183.3 410.8 L183.1 411.2 L183.0 411.8 L182.8 412.5 L182.7 413.0 L182.6 413.8 L182.5 414.5 L182.5 415.0 L182.4 415.8 L182.4 416.5 L182.4 417.2 L182.5 418.0 L182.5 418.6 L182.6 419.2 L182.6 420.0 L182.7 420.8 L182.8 421.2 L183.0 422.0 L183.1 422.5 L183.2 423.2 L183.4 423.8 L183.5 424.2 L183.8 424.9 L184.0 425.5 L184.1 426.0 L184.3 426.5 L184.6 427.0 L184.8 427.5 L185.0 428.0 L185.3 428.5 L185.5 429.0 L185.8 429.5 L186.1 430.0 L186.5 430.5 L186.8 430.9 L187.0 431.3 L187.4 431.8 L187.8 432.2 L188.0 432.5 L188.4 433.0 L188.8 433.3 L189.2 433.8 L189.5 434.1 L190.0 434.5 L190.3 434.8 L190.8 435.1 L191.2 435.5 L191.7 435.8 L192.1 436.0 L192.5 436.2 L193.0 436.5 L193.5 436.8 L194.1 437.0 L194.7 437.2 L195.2 437.4 L195.8 437.6 L196.5 437.8 L197.0 437.8 L197.8 437.9 L198.4 438.0 L199.0 438.0 L199.7 438.0 L199.7 438.0 M199.1 435.0 L199.8 434.9 L200.5 434.8 L201.0 434.7 L201.8 434.5 L202.2 434.3 L202.8 434.1 L203.2 433.9 L203.8 433.6 L204.2 433.3 L204.7 433.0 L205.1 432.8 L205.5 432.4 L205.9 432.0 L206.2 431.7 L206.7 431.2 L207.0 430.9 L207.3 430.5 L207.7 430.0 L208.0 429.5 L208.2 429.1 L208.5 428.7 L208.8 428.2 L208.8 428.2 M210.0 426.2 L210.3 425.8 L210.6 425.2 L210.9 424.8 L211.2 424.2 L211.4 423.8 L211.7 423.2 L212.0 422.8 L212.2 422.3 L212.5 421.9 L212.8 421.4 L213.0 420.9 L213.2 420.4 L213.5 420.0 L213.8 419.5 L214.0 419.0 L214.2 418.5 L214.5 417.9 L214.8 417.4 L214.9 417.0 M217.1 410.8 L217.3 410.2 L217.3 409.5 L217.4 408.8 L217.4 408.0 L217.4 407.2 L217.4 406.5 L217.4 405.8 L217.3 405.0 L217.2 404.5 L217.1 403.8 L217.0 403.2 L216.8 402.5 L216.7 402.0 L216.5 401.2 L216.3 400.8 L216.2 400.2 L216.0 399.8 L215.8 399.2 L215.5 398.6 L215.2 398.1 L215.0 397.6 L214.8 397.2 L214.5 396.8 L214.2 396.2 L213.8 395.8 L213.5 395.3 L213.2 395.0 L212.9 394.5 L212.5 394.1 L212.2 393.8 L211.8 393.4 L211.3 393.0 L211.0 392.7 L210.5 392.3 L210.0 392.0 L209.7 391.8 L209.2 391.5 L208.8 391.2 L208.2 391.0 L207.7 390.8 L207.0 390.5 L206.5 390.4 L206.0 390.2 L205.2 390.1 L204.5 390.0 L203.8 390.0 L203.0 390.0 L202.2 390.1 L201.6 390.2 L201.0 390.4 L200.5 390.6 L200.0 390.8 L199.4 391.0 L198.9 391.2 L198.5 391.5 L198.0 391.8 L197.5 392.2 L197.1 392.5 L196.8 392.8 L196.2 393.2 L196.0 393.5 L195.5 394.0 L195.2 394.3 L194.9 394.8 L194.6 395.2 L194.3 395.8 L194.0 396.2 L193.8 396.7 L193.5 397.2 L193.2 397.5 L193.0 398.0 L192.6 398.5 L192.3 399.0 L192.0 399.5 L191.8 400.0 L191.5 400.4 L191.2 400.8 L191.0 401.3 L190.7 401.8 L190.4 402.2 L190.2 402.8 L189.9 403.2 L189.6 403.8 L189.4 404.2 L189.1 404.8 L188.8 405.2 L188.6 405.8 L188.3 406.2 L188.1 406.8 L187.8 407.2 L187.6 407.8 L187.4 408.2 L187.1 408.8 L186.9 409.2 L186.7 409.8 L186.5 410.3 L186.2 411.0 L186.1 411.5 L185.9 412.0 L185.7 412.5 L185.5 413.2 L185.3 413.8 L185.2 414.2 L185.1 415.0 L185.0 415.6 L184.9 416.2 L184.9 417.0 L184.9 417.8 L184.9 418.5 L185.0 419.2 L185.0 419.8 L185.1 420.5 L185.2 421.2 L185.3 421.8 L185.5 422.5 L185.6 423.0 L185.8 423.5 L186.0 424.2 L186.2 424.8 L186.3 425.2 L186.5 425.8 L186.8 426.2 L187.0 426.8 L187.3 427.2 L187.5 427.8 L187.8 428.2 L188.1 428.8 L188.5 429.2 L188.8 429.6 L189.1 430.0 L189.5 430.5 L189.8 430.8 L190.2 431.2 L190.5 431.6 L191.0 432.0 L191.3 432.2 L191.8 432.6 L192.2 433.0 L192.6 433.2 L193.1 433.5 L193.5 433.8 L194.0 434.0 L194.6 434.2 L195.2 434.5 L195.8 434.6 L196.2 434.8 L197.0 434.9 L197.8 435.0 L198.2 435.0 L199.0 435.0 L199.1 435.0 M198.8 432.0 L199.5 431.9 L200.2 431.8 L200.8 431.6 L201.2 431.4 L201.8 431.1 L202.2 430.9 L202.8 430.5 L203.1 430.2 L203.5 430.0 L204.0 429.5 L204.2 429.2 L204.7 428.8 L205.0 428.3 L205.2 428.0 L205.5 427.5 L205.8 427.0 L206.1 426.5 L206.3 426.0 L206.7 425.5 L207.0 425.0 L207.2 424.5 L207.5 424.1 L207.8 423.7 L208.0 423.2 L208.3 422.8 L208.6 422.2 L208.8 421.8 L209.1 421.2 L209.4 420.8 L209.7 420.2 L210.0 419.8 L210.2 419.2 L210.5 418.8 L210.8 418.3 L211.0 417.9 L211.2 417.4 L211.5 416.9 L211.8 416.5 L212.0 416.0 L212.2 415.5 L212.5 415.0 M213.9 411.8 L214.1 411.2 L214.3 410.8 L214.5 410.1 L214.7 409.5 L214.8 409.0 L214.9 408.2 L215.0 407.5 L215.0 406.8 L215.0 406.0 L214.9 405.2 L214.9 404.5 L214.8 403.8 L214.6 403.2 L214.5 402.6 L214.3 402.0 L214.2 401.5 L214.0 401.0 L213.8 400.3 L213.5 399.8 L213.2 399.3 L213.0 398.8 L212.8 398.4 L212.5 398.0 L212.2 397.5 L211.8 397.0 L211.5 396.6 L211.2 396.2 L210.8 395.8 L210.4 395.5 L210.0 395.1 L209.5 394.8 L209.1 394.5 L208.7 394.2 L208.2 394.0 L207.8 393.7 L207.1 393.5 L206.5 393.3 L206.0 393.2 L205.2 393.1 L204.5 393.0 L203.8 393.0 L203.0 393.1 L202.4 393.2 L201.8 393.4 L201.2 393.6 L200.8 393.8 L200.2 394.1 L199.8 394.4 L199.3 394.8 L199.0 395.0 L198.5 395.5 L198.2 395.8 L197.8 396.2 L197.5 396.6 L197.2 397.0 L196.9 397.5 L196.7 398.0 L196.4 398.5 L196.1 399.0 L195.8 399.5 L195.5 400.0 L195.2 400.5 L195.0 400.9 L194.8 401.3 L194.5 401.8 L194.2 402.2 L193.9 402.8 L193.7 403.2 L193.4 403.8 L193.1 404.2 L192.8 404.8 L192.5 405.2 L192.3 405.8 L192.0 406.2 L191.8 406.7 L191.5 407.1 L191.2 407.6 L191.0 408.0 L190.7 408.5 L190.5 409.0 L190.2 409.5 L190.0 410.0 L189.7 410.5 L189.5 411.0 L189.2 411.5 L189.0 412.0 L188.8 412.6 L188.5 413.2 L188.3 413.8 L188.1 414.2 L188.0 414.8 L187.8 415.4 L187.6 416.0 L187.5 416.5 L187.4 417.2 L187.4 418.0 L187.4 418.8 L187.4 419.5 L187.5 420.2 L187.5 420.8 L187.7 421.5 L187.8 422.0 L187.8 422.2 M188.6 424.8 L188.9 425.2 L189.1 425.8 L189.4 426.2 L189.7 426.8 L190.0 427.2 L190.2 427.6 L190.5 428.0 L190.9 428.5 L191.2 428.8 L191.7 429.2 L192.0 429.6 L192.5 430.0 L192.8 430.2 L193.2 430.5 L193.8 430.8 L194.2 431.1 L194.8 431.3 L195.2 431.5 L195.9 431.8 L196.5 431.9 L197.2 432.0 L197.8 432.0 L198.5 432.0 L198.8 432.0 M199.8 428.7 L200.2 428.4 L200.8 428.2 L201.2 427.8 L201.6 427.5 L202.0 427.1 L202.3 426.8 L202.7 426.2 L203.0 425.8 L203.2 425.3 L203.5 424.8 L203.8 424.3 L204.0 423.8 L204.2 423.4 L204.5 422.9 L204.8 422.5 L205.0 422.0 L205.3 421.5 L205.6 421.0 L205.9 420.5 L206.1 420.0 L206.4 419.5 L206.7 419.0 L207.0 418.5 L207.2 418.0 L207.5 417.6 L207.8 417.1 L208.0 416.7 L208.2 416.2 L208.5 415.8 L208.8 415.2 L209.1 414.8 L209.4 414.2 L209.6 413.8 L209.9 413.2 L210.2 412.8 L210.5 412.2 L210.7 411.8 L211.0 411.3 L211.2 410.8 L211.5 410.2 L211.7 409.8 L211.9 409.2 L212.1 408.8 L212.2 408.2 L212.5 407.5 L212.5 407.0 L212.6 406.2 L212.6 405.5 L212.5 404.8 L212.5 404.2 L212.3 403.5 L212.2 403.0 L212.0 402.2 L211.9 401.8 L211.7 401.2 L211.4 400.8 L211.2 400.2 L210.9 399.8 L210.5 399.2 L210.2 398.9 L210.0 398.5 L209.5 398.0 L209.2 397.8 L208.8 397.4 L208.2 397.0 L207.8 396.8 L207.3 396.5 L206.8 396.3 L206.2 396.1 L205.5 396.0 L205.0 396.0 L204.2 396.0 L203.8 396.1 L203.0 396.2 L202.5 396.4 L202.0 396.7 L201.5 397.0 L201.2 397.2 L200.8 397.6 L200.4 398.0 L200.0 398.4 L199.8 398.8 L199.5 399.2 L199.2 399.8 L199.0 400.3 L198.7 400.8 L198.5 401.2 L198.2 401.8 L197.9 402.2 L197.6 402.8 L197.3 403.2 L197.1 403.8 L196.8 404.2 L196.5 404.8 L196.2 405.2 L196.0 405.6 L195.8 406.1 L195.5 406.5 L195.2 407.0 L195.0 407.5 L194.7 408.0 L194.4 408.5 L194.1 409.0 L193.8 409.5 L193.6 410.0 L193.3 410.5 L193.0 411.0 L192.8 411.5 L192.5 411.9 L192.2 412.4 L192.0 412.8 L191.8 413.3 L191.5 413.8 L191.2 414.2 L191.0 414.8 L190.7 415.2 L190.5 415.9 L190.3 416.5 L190.1 417.0 L190.0 417.5 L189.9 418.2 L189.8 419.0 L189.8 419.8 L189.9 420.5 L190.0 421.2 L190.1 421.8 L190.2 422.3 L190.4 423.0 L190.6 423.5 L190.8 424.0 L191.1 424.5 L191.4 425.0 L191.7 425.5 L192.0 426.0 L192.2 426.3 L192.6 426.8 L193.0 427.1 L193.4 427.5 L193.8 427.8 L194.2 428.1 L194.8 428.4 L195.2 428.6 L195.8 428.8 L196.5 429.0 L196.7 429.0 M199.5 425.3 L199.8 425.0 L200.1 424.5 L200.3 424.0 L200.6 423.5 L200.8 423.0 L201.1 422.5 L201.4 422.0 L201.6 421.5 L201.9 421.0 L202.2 420.5 L202.5 420.0 L202.8 419.5 L203.0 419.1 L203.2 418.6 L203.5 418.2 L203.8 417.7 L204.0 417.2 L204.3 416.8 L204.6 416.2 L204.8 415.8 L205.1 415.2 L205.4 414.8 L205.7 414.2 L206.0 413.8 L206.2 413.2 L206.5 412.8 L206.8 412.3 L207.0 411.9 L207.2 411.4 L207.5 411.0 L207.8 410.6 M208.9 408.5 L209.2 408.0 L209.5 407.5 L209.7 407.0 L210.0 406.5 L210.1 406.0 L210.2 405.2 L210.1 404.5 L210.0 403.8 L209.9 403.2 L209.8 402.7 L209.5 402.0 L209.2 401.5 L209.0 401.1 L208.7 400.8 L208.3 400.2 L208.0 400.0 L207.5 399.6 L207.0 399.3 L206.5 399.1 L206.0 399.0 L205.2 398.9 L204.5 399.0 L204.0 399.1 L203.5 399.4 L203.0 399.7 L202.8 400.0 L202.4 400.5 L202.2 401.0 L201.9 401.5 L201.7 402.0 L201.4 402.5 L201.1 403.0 L200.9 403.5 L200.6 404.0 L200.3 404.5 L200.0 405.0 L199.8 405.5 L199.5 405.9 L199.2 406.4 L199.0 406.8 L198.8 407.3 L198.5 407.8 L198.2 408.2 L197.9 408.8 L197.7 409.2 L197.4 409.8 L197.1 410.2 L196.8 410.8 L196.5 411.2 L196.3 411.8 L196.0 412.2 L195.8 412.7 L195.5 413.1 L195.2 413.6 L195.0 414.0 L194.7 414.5 L194.4 415.0 L194.2 415.5 L193.9 416.0 L193.6 416.5 L193.3 417.0 L193.0 417.5 L192.8 418.0 L192.5 418.5 L192.3 419.0 L192.3 419.8 L192.3 420.5 L192.4 421.2 L192.5 421.8 L192.7 422.5 L192.9 423.0 L193.2 423.5 L193.5 424.0 L193.8 424.3 L194.1 424.8 L194.5 425.1 L195.0 425.5 L195.5 425.8 L196.0 426.0 L196.5 426.1 L197.2 426.1 L198.0 426.1 L198.2 426.0 M197.0 422.8 L197.3 422.5 L197.7 422.0 L198.0 421.5 L198.2 421.0 L198.5 420.5 L198.8 420.1 L199.0 419.6 L199.2 419.2 L199.5 418.8 L199.8 418.2 L200.1 417.8 L200.3 417.2 L200.6 416.8 L200.9 416.2 L201.2 415.8 L201.5 415.2 L201.7 414.8 L202.0 414.3 L202.2 413.8 L202.5 413.4 L202.8 412.9 L203.0 412.5 L203.3 412.0 L203.6 411.5 L203.8 411.0 L204.0 410.7 M205.2 408.5 L205.5 408.0 L205.8 407.6 L206.0 407.1 L206.2 406.7 L206.3 406.5 M207.4 404.2 L207.4 403.5 L207.2 403.0 L206.8 402.5 L206.5 402.2 L205.8 402.2 L205.2 402.4 L204.9 402.8 L204.7 403.2 L204.4 403.8 L204.1 404.2 L203.8 404.8 L203.6 405.2 L203.3 405.8 L203.0 406.2 L202.8 406.7 L202.5 407.1 L202.2 407.6 L202.0 408.0 L201.7 408.5 L201.5 409.0 L201.2 409.5 L200.9 410.0 L200.6 410.5 L200.3 411.0 L200.1 411.5 L199.8 412.0 L199.5 412.5 L199.2 413.0 L199.0 413.4 L198.8 413.9 L198.5 414.3 L198.2 414.8 L198.0 415.2 L197.7 415.8 L197.4 416.2 L197.1 416.8 L196.9 417.2 L196.6 417.8 L196.3 418.2 L196.0 418.8 L195.8 419.2 L195.5 419.7 L195.2 420.1 L195.1 420.8 L195.1 421.5 L195.3 422.0 L195.7 422.5 L196.0 422.8 L196.8 422.8 L197.0 422.8"/>
<g stroke-width="2.5">
<path d="M191.7 523.4 L191.7 509.9 L223.5 509.9 L228 514.4 L228 539.2"/>
<path d="M194.7 523.4 L170.9 523.4 L170.9 545.7 L173.9 544.2 L176.4 548.7 L186.8 546.7 L181.3 555.6 L175.9 556.1 L176.8 560.1 L170.9 558.6 L170.9 572.5 L198.7 572.5"/>
<path d="M221 540.2 L229.5 540.2 L229.5 572.5 L225 572.5"/>
<path d="M206.1 516.4 Q205 516.4 204.4 517.4 L190.9 540.2 Q189.9 542.7 192.5 542.7 L219.3 542.7 Q222 542.7 220.9 540.2 L207.8 517.4 Q207.2 516.4 206.1 516.4 Z" fill="#fff"/>
<path d="M206.1 525 L206.1 532.8"/>
<circle cx="206.1" cy="536.9" r="0.9" fill="#000"/>
<path d="M203.2 563 L203.2 558.8 A8.4 8.4 0 0 1 220 558.8 L220 559.5" stroke-width="2.3"/>
<path d="M207 563 L207 559.2 A4.6 4.6 0 0 1 216.2 559.2 L216.2 559.5" stroke-width="1.8"/>
<path d="M216.2 559.5 L220 559.5" stroke-width="1.8"/>
<rect x="198.3" y="563.1" width="26.6" height="21.3" rx="2.4" fill="#fff"/>
<circle cx="211.4" cy="569.7" r="3.7" fill="#000" stroke="none"/>
<path d="M211.4 570 L211.4 579.2" stroke-width="4.8"/>
<circle cx="211.4" cy="569.7" r="1.5" fill="#fff" stroke="none"/>
<path d="M211.4 570 L211.4 578.6" stroke="#fff" stroke-width="1.1"/>
<path d="M214.4 575.2 L216.0 574.6 L217.6 577.9 L220.4 571.8 L223.2 575.0" stroke-width="2.1"/>
</g>
<g stroke-width="2.0">
<path d="M166.9 666.3 L166.9 671.8 M210.6 666.3 L210.6 671.8 M166.9 687.6 L166.9 693.1 M210.6 687.6 L210.6 693.1"/>
<rect x="160.9" y="649.9" width="53.6" height="16.4" rx="2"/>
<path d="M172.3 649.9 L172.3 666.3"/>
<circle cx="166.6" cy="658.1" r="2.1" stroke-width="1.6"/>
<rect x="176.8" y="654.9" width="10.9" height="6.9" rx="0.8" stroke-width="1.7"/>
<path d="M192.2 656.4 L192.2 660.8 M197.2 656.4 L197.2 660.8 M202.1 656.4 L202.1 660.8" stroke-width="1.7"/>
<rect x="160.9" y="671.8" width="55.1" height="15.8" rx="2"/>
<path d="M205.1 671.8 L205.1 687.6"/>
<circle cx="210.6" cy="679.7" r="2.1" stroke-width="1.6"/>
<rect x="189.7" y="676.2" width="10.9" height="7" rx="0.8" stroke-width="1.7"/>
<path d="M165.4 677.5 L165.4 682 M170.4 677.5 L170.4 682 M175.3 677.5 L175.3 682 M180.3 677.5 L180.3 682 M185.3 677.5 L185.3 682" stroke-width="1.7"/>
<rect x="160.9" y="693.1" width="55.1" height="15.9" rx="2"/>
<path d="M172.3 693.1 L172.3 709"/>
<circle cx="166.6" cy="701.1" r="2.1" stroke-width="1.6"/>
<rect x="176.8" y="697.1" width="10.9" height="7.4" rx="0.8" stroke-width="1.7"/>
<path d="M192.2 699 L192.2 703.5 M197.2 699 L197.2 703.5 M202.1 699 L202.1 703.5 M207.1 699 L207.1 703.5 M212.1 699 L212.1 703.5" stroke-width="1.7"/>
<path d="M184.8 709 L184.8 713.5 M192.7 709 L192.7 713.5"/>
<rect x="171.4" y="713.5" width="35.2" height="3.6" rx="1.8"/>
<circle cx="221" cy="661.3" r="13" fill="#fff"/>
<path d="M216.3 656.6 L225.7 666 M225.7 656.6 L216.3 666" stroke-width="6.2"/>
<path d="M216.3 656.6 L225.7 666 M225.7 656.6 L216.3 666" stroke="#fff" stroke-width="2.2"/>
<path d="M226.5 692.6 Q225.3 692.6 224.6 693.7 L213.9 711 Q212.8 713.9 215.6 713.9 L237.4 713.9 Q240.2 713.9 239.1 711 L228.4 693.7 Q227.7 692.6 226.5 692.6 Z" fill="#fff"/>
<path d="M226.5 699 L226.5 706" stroke-width="1.6"/>
<circle cx="226.5" cy="709.3" r="0.6" fill="#000" stroke-width="1.2"/>
</g>
</g>
</svg>
</body></html>
